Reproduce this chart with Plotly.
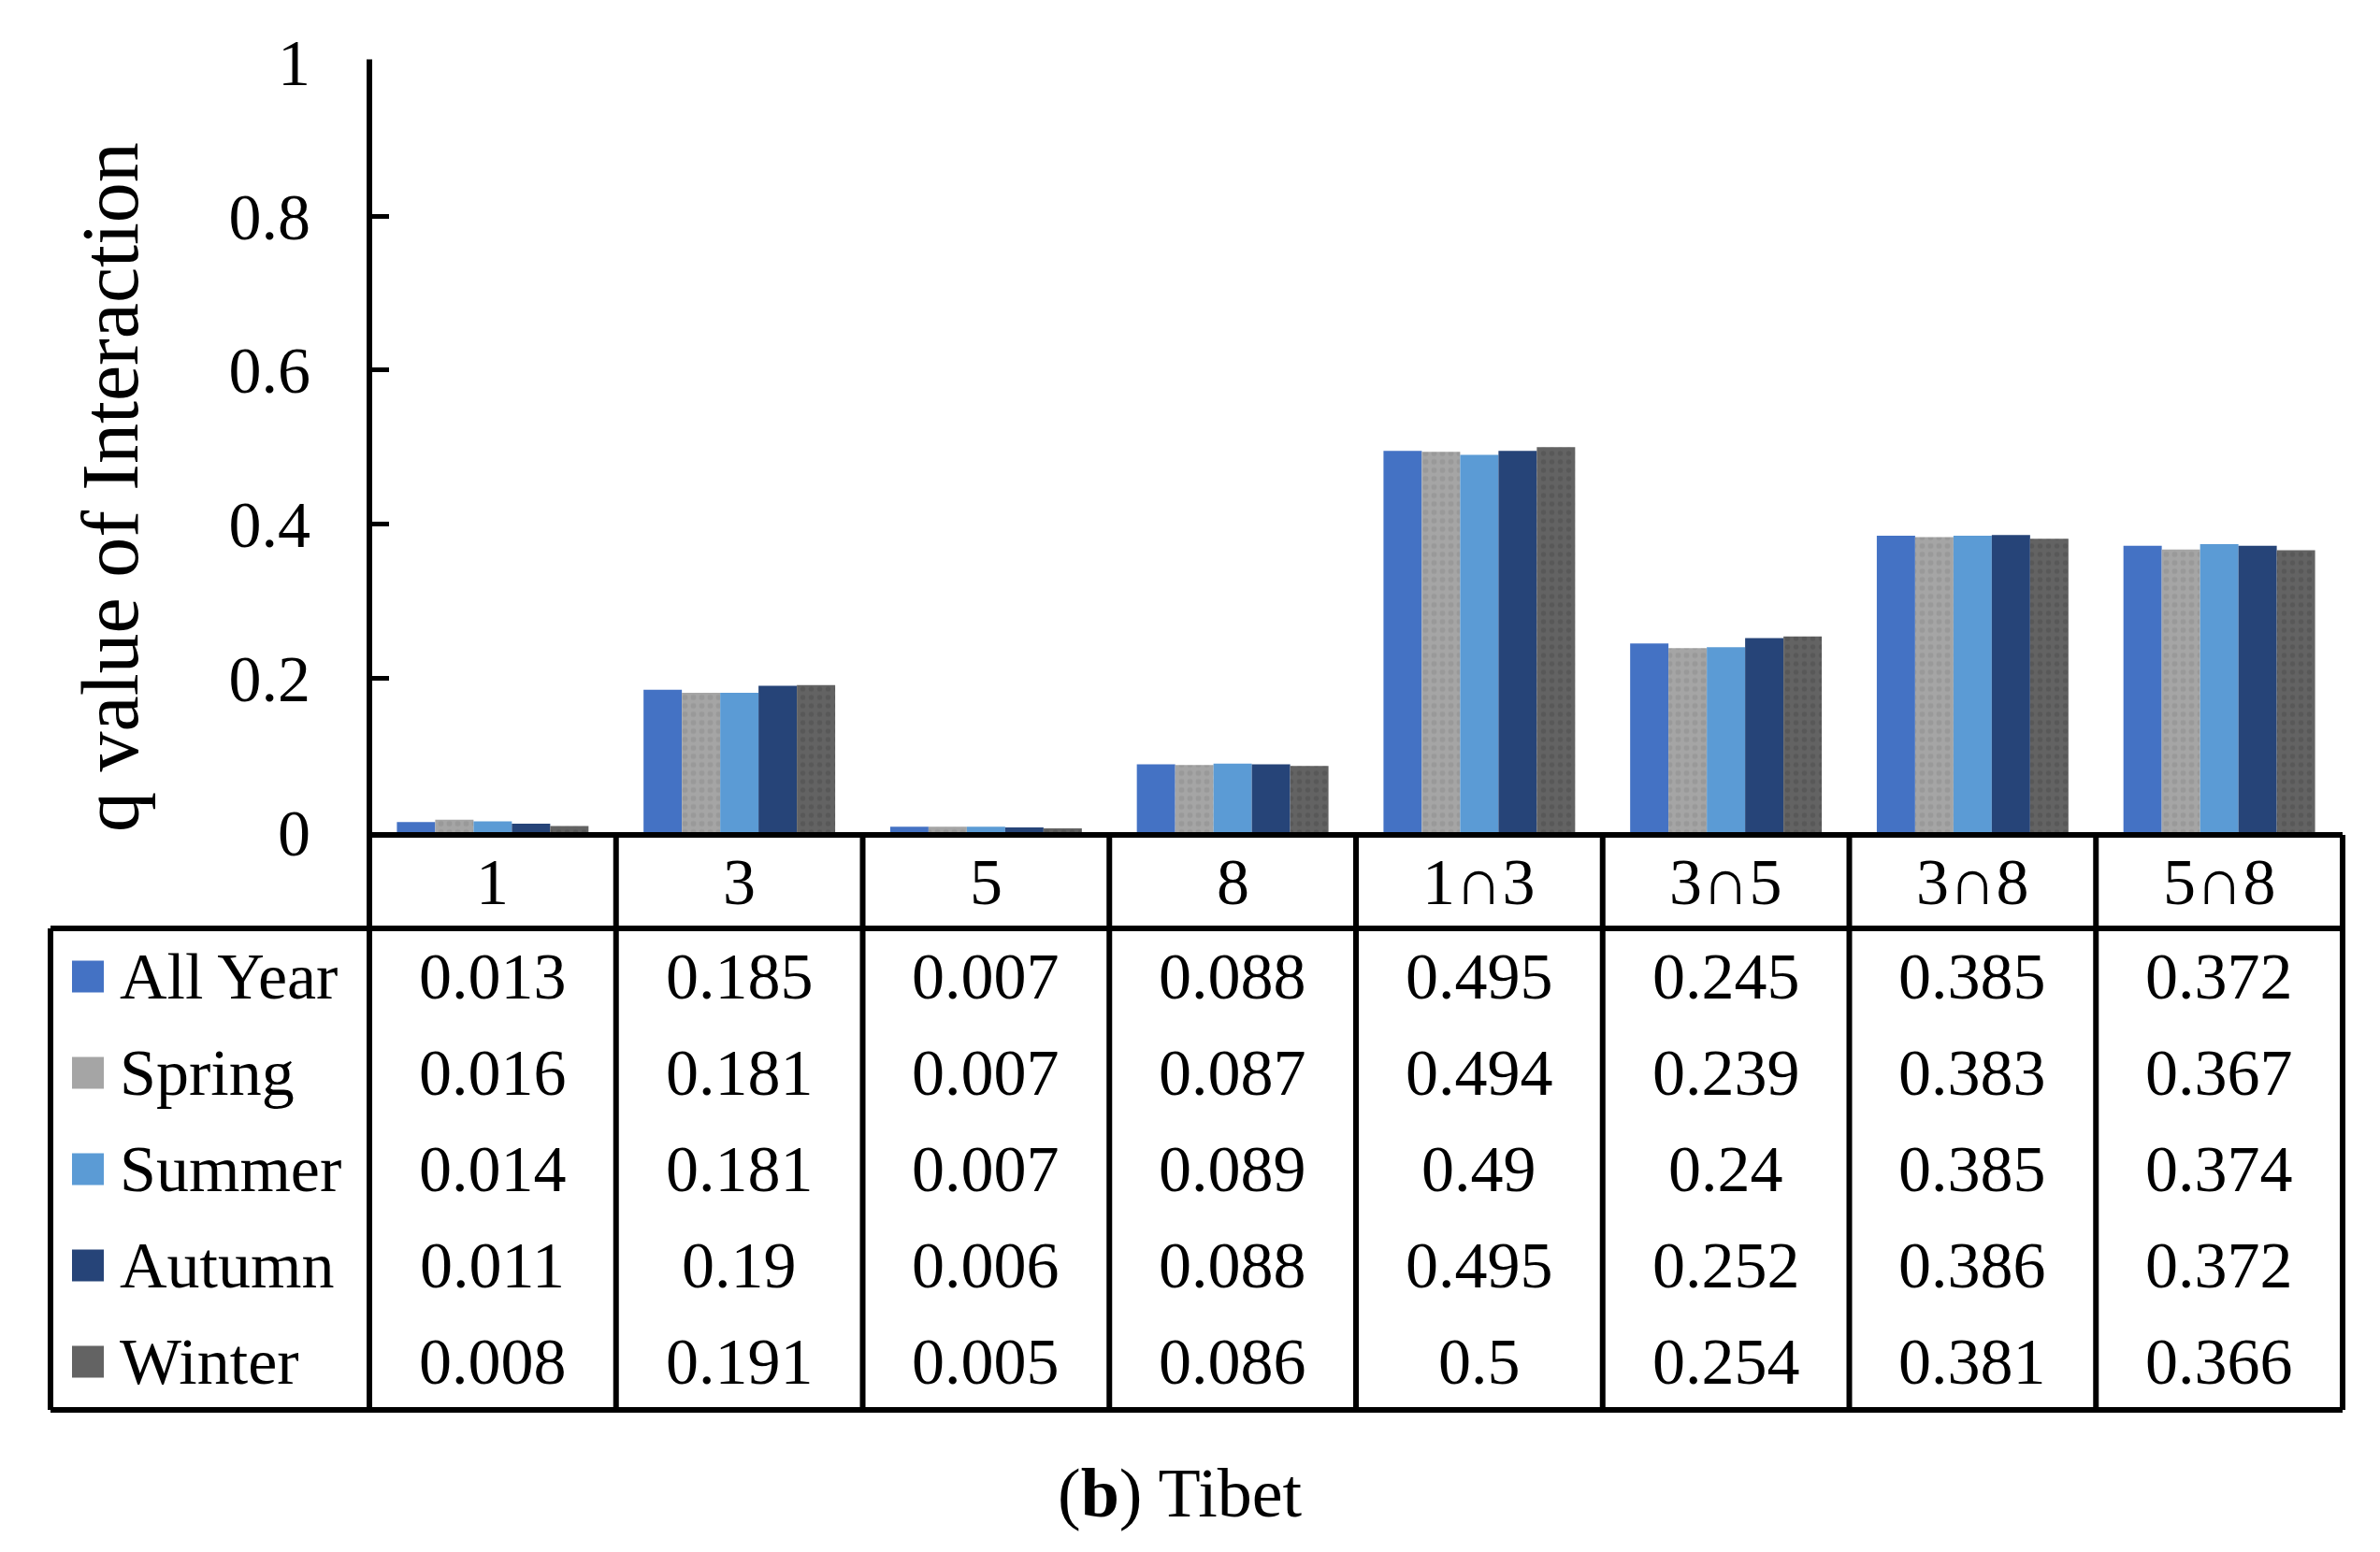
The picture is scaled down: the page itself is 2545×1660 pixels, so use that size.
import plotly.graph_objects as go

# ---------------- data ----------------
categories = ["1", "3", "5", "8", "1∩3", "3∩5", "3∩8", "5∩8"]
series_names = ["All Year", "Spring", "Summer", "Autumn", "Winter"]
all_year = [0.013, 0.185, 0.007, 0.088, 0.495, 0.245, 0.385, 0.372]
spring = [0.016, 0.181, 0.007, 0.087, 0.494, 0.239, 0.383, 0.367]
summer = [0.014, 0.181, 0.007, 0.089, 0.49, 0.24, 0.385, 0.374]
autumn = [0.011, 0.19, 0.006, 0.088, 0.495, 0.252, 0.386, 0.372]
winter = [0.008, 0.191, 0.005, 0.086, 0.5, 0.254, 0.381, 0.366]
y_ticks = [0, 0.2, 0.4, 0.6, 0.8, 1]
y_tick_text = ["0", "0.2", "0.4", "0.6", "0.8", "1"]
y_title = "q value of Interaction"
caption = "(<b>b</b>) Tibet"

series_values = [all_year, spring, summer, autumn, winter]
colors = ["#4472C4", "#A5A5A5", "#5B9BD5", "#264478", "#636363"]
patterns = [None, ("#8E8E8E", 0.35), None, None, ("#4E4E4E", 0.3)]

# ---------------- layout geometry (pixels) ----------------
W, H = 2545, 1660
X0, X1 = 395, 2505          # plot / table column area
TABLE_LEFT = 54
Y_TOP, Y_ZERO = 66.5, 890
Y_AXIS_LINE = 893
Y_HEAD_BOTTOM = 993
Y_TABLE_BOTTOM = 1508
FONT = "Liberation Serif"
LW = 6


def px(x):
    return x / W


def py(y):
    return 1 - y / H


fig = go.Figure()
idx = list(range(len(categories)))
for name, vals, col, pat in zip(series_names, series_values, colors, patterns):
    marker = dict(color=col, line=dict(width=0))
    if pat is not None:
        marker["pattern"] = dict(shape=".", fgcolor=pat[0], bgcolor=col,
                                 size=9, solidity=pat[1], fillmode="overlay")
    fig.add_trace(go.Bar(x=categories, y=vals, name=name, marker=marker,
                         showlegend=False))

shapes = []
line = dict(color="black", width=LW)
n = len(categories)
col_w = (X1 - X0) / n
# top of header row (x-axis)
shapes.append(dict(type="line", xref="paper", yref="paper",
                   x0=px(X0), x1=px(X1), y0=py(Y_AXIS_LINE), y1=py(Y_AXIS_LINE), line=line))
# y axis line continuing through table
shapes.append(dict(type="line", xref="paper", yref="paper",
                   x0=px(X0), x1=px(X0), y0=py(Y_TOP - 3), y1=py(Y_TABLE_BOTTOM), line=line))
# column separators
for i in range(1, n + 1):
    xx = X0 + i * col_w
    shapes.append(dict(type="line", xref="paper", yref="paper",
                       x0=px(xx), x1=px(xx), y0=py(Y_AXIS_LINE), y1=py(Y_TABLE_BOTTOM), line=line))
# horizontal table lines
for yy in (Y_HEAD_BOTTOM, Y_TABLE_BOTTOM):
    shapes.append(dict(type="line", xref="paper", yref="paper",
                       x0=px(TABLE_LEFT), x1=px(X1), y0=py(yy), y1=py(yy), line=line))
# left border
shapes.append(dict(type="line", xref="paper", yref="paper",
                   x0=px(TABLE_LEFT), x1=px(TABLE_LEFT), y0=py(Y_HEAD_BOTTOM),
                   y1=py(Y_TABLE_BOTTOM), line=line))

annotations = []
tfont = dict(family=FONT, size=70, color="black")
# header row
head_c = (Y_AXIS_LINE + Y_HEAD_BOTTOM) / 2
for i, c in zip(idx, categories):
    annotations.append(dict(x=i, xref="x", y=py(head_c), yref="paper", text=c,
                            showarrow=False, font=tfont, xanchor="center", yanchor="middle"))
row_h = (Y_TABLE_BOTTOM - Y_HEAD_BOTTOM) / len(series_names)
for r, (name, vals, col) in enumerate(zip(series_names, series_values, colors)):
    yc = Y_HEAD_BOTTOM + (r + 0.5) * row_h
    # legend key
    shapes.append(dict(type="rect", xref="paper", yref="paper",
                       x0=px(77), x1=px(111), y0=py(yc - 17), y1=py(yc + 17),
                       fillcolor=col, line=dict(width=0)))
    annotations.append(dict(x=px(126), xref="paper", y=py(yc), yref="paper", text=name,
                            showarrow=False, font=tfont, xanchor="left", yanchor="middle"))
    for i, v in zip(idx, vals):
        annotations.append(dict(x=i, xref="x", y=py(yc), yref="paper", text=str(v),
                                showarrow=False, font=tfont, xanchor="center", yanchor="middle"))

# y title
annotations.append(dict(x=px(118), xref="paper", y=py(521), yref="paper", text=y_title,
                        textangle=-90, showarrow=False,
                        font=dict(family=FONT, size=86, color="black"),
                        xanchor="center", yanchor="middle"))
# caption
annotations.append(dict(x=px(1262), xref="paper", y=py(1597), yref="paper", text=caption,
                        showarrow=False, font=dict(family=FONT, size=74, color="black"),
                        xanchor="center", yanchor="middle"))

fig.update_layout(
    width=W, height=H,
    margin=dict(l=0, r=0, t=0, b=0),
    paper_bgcolor="white", plot_bgcolor="white",
    barmode="group", bargap=0.223, bargroupgap=0,
    xaxis=dict(type="category", domain=[px(X0), px(X1)], range=[-0.5, n - 0.5],
               showticklabels=False, showline=False, showgrid=False, zeroline=False,
               ticks="", automargin=False),
    yaxis=dict(domain=[py(Y_ZERO), py(Y_TOP)], range=[0, 1], tickvals=y_ticks,
               ticktext=y_tick_text, ticks="inside", ticklen=21, tickwidth=5,
               tickcolor="black", showline=False, showgrid=False, zeroline=False,
               tickfont=dict(family=FONT, size=70, color="black"),
               ticklabelstandoff=62, automargin=False),
    shapes=shapes, annotations=annotations,
)

fig.write_html("out.html", config={"displayModeBar": False},
               post_script="document.body.style.margin='0';document.body.style.overflow='hidden';")
